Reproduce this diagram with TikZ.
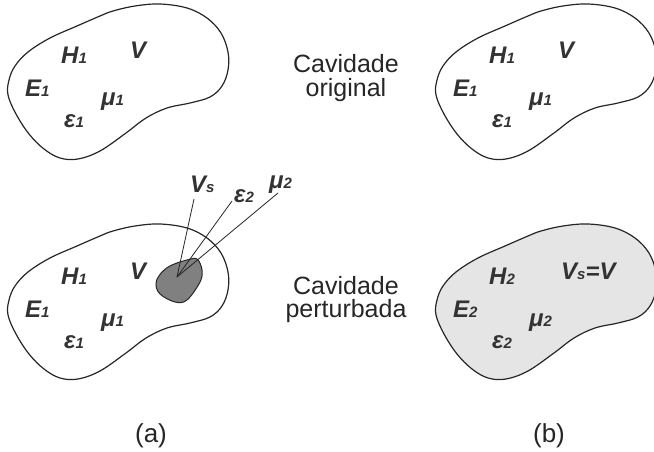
\documentclass[tikz,border=0pt]{standalone}
\usepackage{fontspec}
\setmainfont{Liberation Sans}
\newcommand\sub[1]{{\fontsize{15}{15}\selectfont #1}}
\tikzset{
  blob/.pic={\path[pic actions] plot[smooth cycle, tension=0.6] coordinates {
    (113,11) (135,6) (160,4) (187,8) (207,18) (221,33) (228,52) (228,70)
    (222,86) (210,97) (190,103) (167,108) (146,118) (126,133) (100,151)
    (78,159) (60,158) (44,149) (29,134) (16,114) (8,95) (9,80) (15,66)
    (28,52) (50,38) (77,26) (100,16)};},
  outline/.style={draw=black!85, line width=1.2pt},
  lab/.style={font=\fontsize{24}{24}\selectfont\bfseries\itshape, anchor=base west, inner sep=0, text=black!80},
  captext/.style={font=\fontsize{25}{25}\selectfont, anchor=base, inner sep=0, text=black!85},
  leader/.style={draw=black!85, line width=0.8pt}
}
\begin{document}
\begin{tikzpicture}[x=1pt, y=-1pt]
\useasboundingbox (0,0) rectangle (654,452);
% blobs
\pic[outline, fill=white] at (0,0) {blob};
\pic[outline, fill=white] at (428,0) {blob};
\pic[outline, fill=white] at (0,220) {blob};
\pic[outline, fill=black!10] at (428,220) {blob};
% upper left labels
\node[lab] (h1a) at (61,64) {H\sub{1}};
\node[lab] (va) at (130,59) {V};
\node[lab] (e1a) at (25,97) {E\sub{1}};
\node[lab] (m1a) at (101,106) {μ\sub{1}};
\node[lab] (p1a) at (64,128) {ε\sub{1}};
% upper right labels
\node[lab] (h1b) at (489,64) {H\sub{1}};
\node[lab] (vb) at (558,59) {V};
\node[lab] (e1b) at (453,97) {E\sub{1}};
\node[lab] (m1b) at (529,106) {μ\sub{1}};
\node[lab] (p1b) at (492,128) {ε\sub{1}};
% lower left labels
\node[lab] (h1c) at (61,284) {H\sub{1}};
\node[lab] (vc) at (130,279) {V};
\node[lab] (e1c) at (25,317) {E\sub{1}};
\node[lab] (m1c) at (101,326) {μ\sub{1}};
\node[lab] (p1c) at (64,348) {ε\sub{1}};
% lower right labels
\node[lab] (h2d) at (489,284) {H\sub{2}};
\node[lab] (vd) at (561,279) {V\sub{s}=V};
\node[lab] (e2d) at (453,317) {E\sub{2}};
\node[lab] (m2d) at (529,326) {μ\sub{2}};
\node[lab] (p2d) at (492,348) {ε\sub{2}};
% small perturbation
\path[draw=black!85, line width=1pt, fill=black!50] plot[smooth cycle, tension=0.6] coordinates {
  (187,260) (197,259) (202,270) (200,282) (187,300) (175,302) (160,294) (156,283) (162,272) (172,265)};
\coordinate (conv) at (177,277);
\node[lab] (vs) at (190,192) {V\sub{s}};
\node[lab] (eps2) at (234,202) {ε\sub{2}};
\node[lab] (mu2) at (269,188) {μ\sub{2}};
\coordinate (vsend) at (194,199);
\coordinate (epsend) at (232,201);
\coordinate (muend) at (278,193);
\draw[leader] (conv) -- (vsend);
\draw[leader] (conv) -- (epsend);
\draw[leader] (conv) -- (muend);
% captions
\node[captext] (c1a) at (346,73) {Cavidade};
\node[captext] (c1b) at (346,96) {original};
\node[captext] (c2a) at (346,294) {Cavidade};
\node[captext] (c2b) at (346,317) {perturbada};
\node[font=\fontsize{26}{26}\selectfont, text=black!85] (la) at (151,436) {(a)};
\node[font=\fontsize{26}{26}\selectfont, text=black!85] (lb) at (549,436) {(b)};
\end{tikzpicture}
\end{document}
